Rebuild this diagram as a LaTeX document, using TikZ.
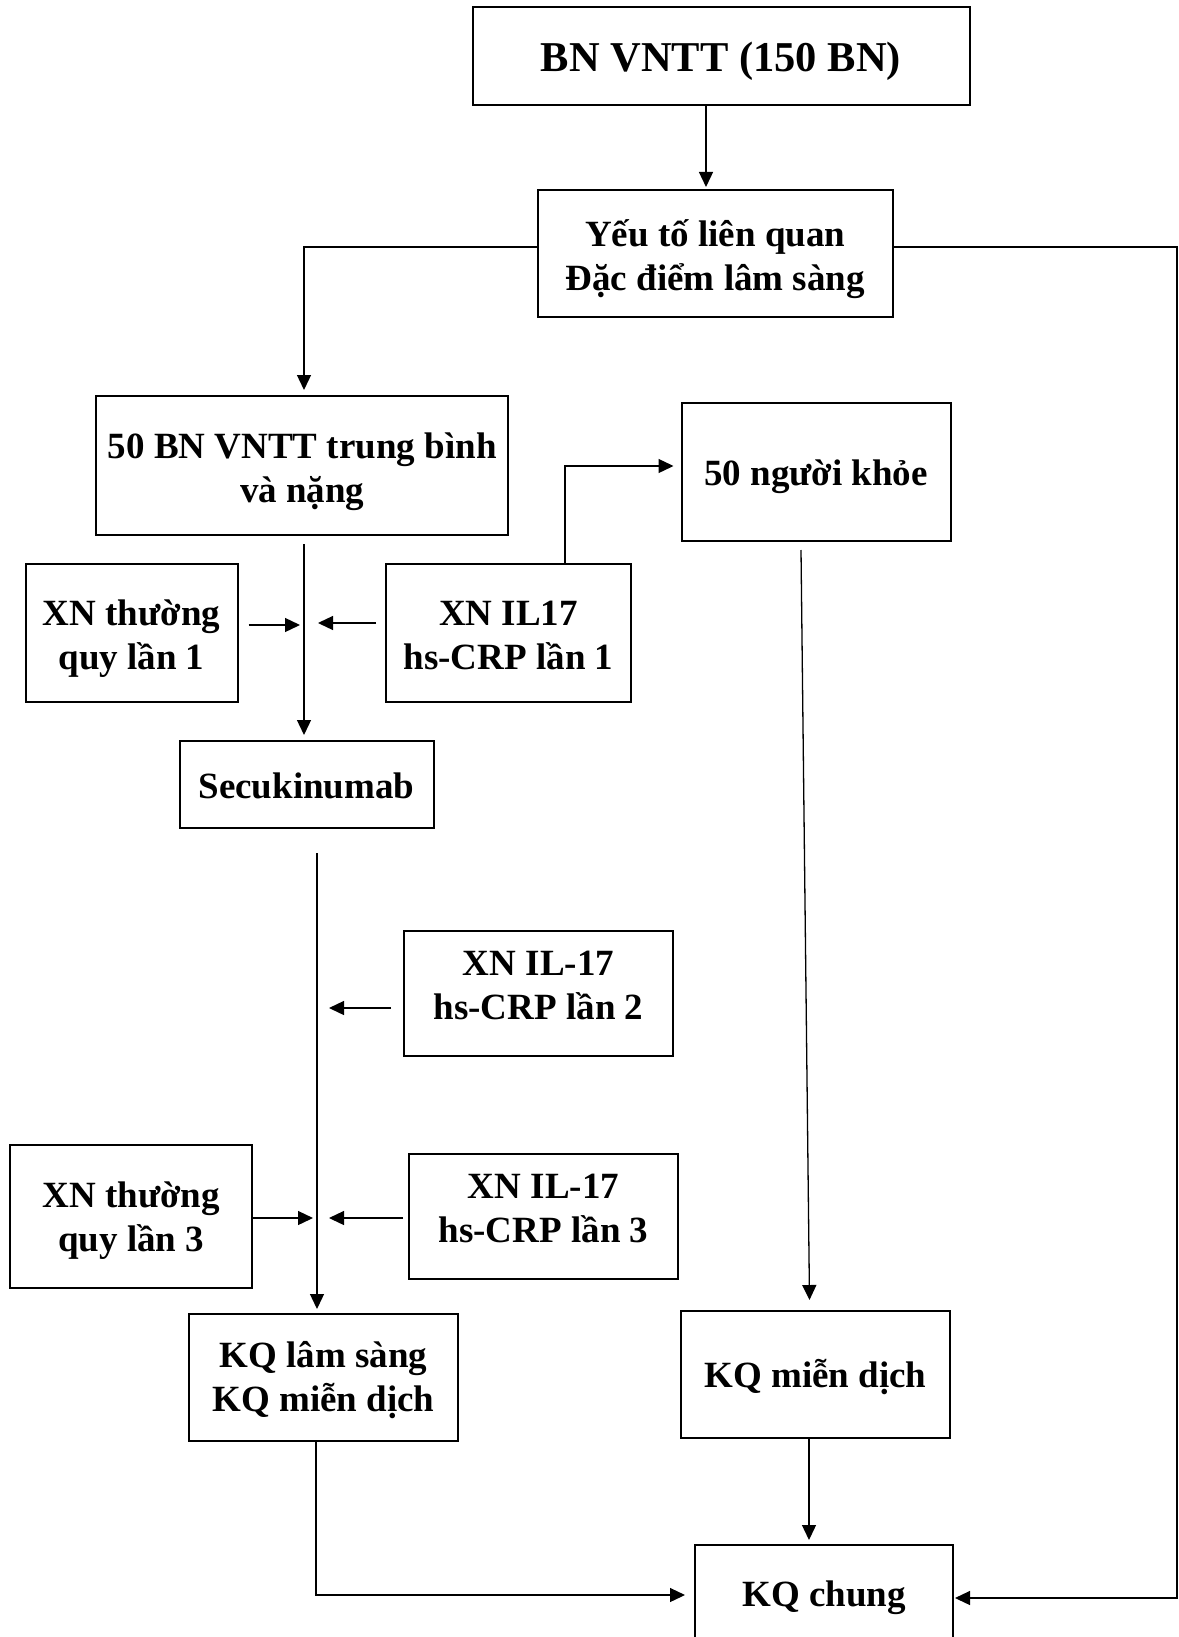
\documentclass[tikz,border=0pt]{standalone}
\usepackage{fontspec}
\setmainfont{Liberation Serif}
\usetikzlibrary{arrows.meta,calc}
% text block pushed down (first arg) or up (second arg) inside its box
\newcommand\tx[3]{\raisebox{0pt}[\dimexpr\height+#1*2\relax][\dimexpr\depth+#2*2\relax]{\begin{tabular}{@{}c@{}}#3\end{tabular}}}
\begin{document}
\begin{tikzpicture}[x=1pt,y=-1pt,
  box/.style={draw,line width=2pt,inner sep=0pt,font=\bfseries\fontsize{37}{44}\selectfont},
  conn/.style={line width=1.3pt},
  arr/.style={conn,-{Triangle[length=15pt,width=14pt]}}]
\useasboundingbox (0,0) rectangle (1178,1637);
% boxes
\node[box,minimum width=497pt,minimum height=98pt,font=\bfseries\fontsize{42.5}{50}\selectfont] (b1) at (721,56) {\tx{6pt}{0pt}{BN VNTT (150 BN)}};
\node[box,minimum width=355pt,minimum height=127pt] (b2) at (715.3,253.5) {\tx{6pt}{0pt}{Yếu tố liên quan\\Đặc điểm lâm sàng}};
\node[box,minimum width=412pt,minimum height=139pt] (b3) at (302.3,465.5) {\tx{6pt}{0pt}{50 BN VNTT trung bình\\và nặng}};
\node[box,minimum width=269pt,minimum height=138pt] (bk) at (816,472) {\tx{5pt}{0pt}{50 người khỏe}};
\node[box,minimum width=212pt,minimum height=138pt] (x1) at (131.5,633.4) {\tx{5pt}{0pt}{XN thường\\quy lần 1}};
\node[box,minimum width=245pt,minimum height=138pt] (i1) at (508.5,633.4) {\tx{5pt}{0pt}{XN IL17\\hs-CRP lần 1}};
\node[box,minimum width=254pt,minimum height=87pt] (sec) at (306.5,784.5) {\tx{5pt}{0pt}{Secukinumab}};
\node[box,minimum width=269pt,minimum height=125pt] (i2) at (538.5,993.4) {\tx{0pt}{5pt}{XN IL-17\\hs-CRP lần 2}};
\node[box,minimum width=242pt,minimum height=143pt] (x3) at (131.3,1216.5) {\tx{4pt}{0pt}{XN thường\\quy lần 3}};
\node[box,minimum width=269pt,minimum height=125pt] (i3) at (543.5,1216.5) {\tx{0pt}{5pt}{XN IL-17\\hs-CRP lần 3}};
\node[box,minimum width=269pt,minimum height=127pt] (kq1) at (323.5,1377.5) {\tx{3pt}{0pt}{KQ lâm sàng\\KQ miễn dịch}};
\node[box,minimum width=269pt,minimum height=127pt] (kqm) at (815.5,1374.5) {\tx{4pt}{0pt}{KQ miễn dịch}};
\node[box,minimum width=258pt,minimum height=106pt] (kqc) at (824,1598) {\tx{0pt}{0pt}{KQ chung}};
% helper coordinates
\coordinate (cA) at (706,0);
\coordinate (cB) at (304,247);
\coordinate (cC) at (1177,247);
\coordinate (e1) at (300,625);
\coordinate (e2) at (318,623);
\coordinate (f) at (565,466);
\coordinate (g) at (317,0);
\coordinate (h2) at (329,1008);
\coordinate (h3) at (313,1218);
\coordinate (h4) at (329,1218);
\coordinate (k) at (316,1595);
\coordinate (m) at (809,0);
% connectors
\draw[arr,shorten >=2pt] (cA |- b1.south) -- (cA |- b2.north);
\draw[arr,shorten >=5pt] (cB -| b2.west) -- (cB) -- (cB |- b3.north);
\draw[arr,shorten >=1pt] (cC -| b2.east) -- (cC) -- (cC |- kqc.east) -- (kqc.east);
\draw[arr,shorten <=8pt,shorten >=5pt] (cB |- b3.south) -- (cB |- sec.north);
\draw[arr,shorten <=10pt] (e1 -| x1.east) -- (e1);
\draw[arr,shorten <=9pt] (e2 -| i1.west) -- (e2);
\draw[arr,shorten >=7pt] (f |- i1.north) -- (f) -- (f -| bk.west);
\draw[arr,shorten <=24pt,shorten >=4pt] (g |- sec.south) -- (g |- kq1.north);
\draw[arr,shorten <=12pt] (h2 -| i2.west) -- (h2);
\draw[arr] (h3 -| x3.east) -- (h3);
\draw[arr,shorten <=5pt] (h4 -| i3.west) -- (h4);
\draw[arr,shorten >=9pt] (k |- kq1.south) -- (k) -- (k -| kqc.west);
\draw[arr] ([xshift=-15pt,yshift=-8pt]bk.south) -- ([xshift=-6pt,yshift=10pt]kqm.north);
\draw[arr,shorten >=4pt] (m |- kqm.south) -- (m |- kqc.north);
\end{tikzpicture}
\end{document}
